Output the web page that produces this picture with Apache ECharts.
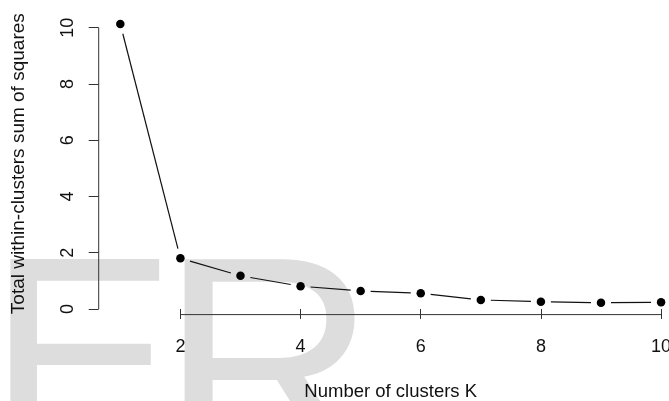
<!DOCTYPE html>
<html>
<head>
<meta charset="utf-8">
<script src="https://cdn.jsdelivr.net/npm/echarts@6/dist/echarts.min.js"></script>
<style>
  html, body { margin: 0; padding: 0; background: #ffffff; }
  #chart { width: 669px; height: 401px; }
</style>
</head>
<body>
<div id="chart"></div>
<script>
// Elbow plot: total within-cluster sum of squares for K = 1..10
const clusterK = [1, 2, 3, 4, 5, 6, 7, 8, 9, 10];
const withinSS = [10.13, 1.80, 1.18, 0.81, 0.64, 0.56, 0.32, 0.26, 0.22, 0.24];
const xTicks = [2, 4, 6, 8, 10];
const yTicks = [0, 2, 4, 6, 8, 10];

// plot region padded beyond the data range on each side
const xMin = 0.64, xMax = 10.36;
const yMin = -0.2, yMax = 10.53;

const ink = '#111111';
const font = 'Liberation Sans, Arial, sans-serif';

const segments = withinSS.slice(0, -1).map((v, i) =>
  [clusterK[i], v, clusterK[i + 1], withinSS[i + 1]]);

const chart = echarts.init(document.getElementById('chart'), null, { renderer: 'canvas' });

chart.setOption({
  backgroundColor: '#ffffff',
  animation: false,
  graphic: [
    { type: 'text', z: -10, left: -13, top: 234,
      style: { text: 'E', fill: '#dddddd', font: '285px ' + font } },
    { type: 'text', z: -10, left: 160, top: 233,
      style: { text: 'R', fill: '#dddddd', font: '300px ' + font } }
  ],
  // the plot region runs past the right edge of the canvas
  grid: { left: 98.7, width: 584, top: 12.8, height: 301.8, containLabel: false, outerBoundsMode: 'none' },
  xAxis: {
    type: 'value', min: xMin, max: xMax,
    name: 'Number of clusters K', nameLocation: 'middle', nameGap: 68,
    nameTextStyle: { color: ink, fontSize: 18.5, fontFamily: font },
    axisLine: { show: false },
    splitLine: { show: false },
    axisTick: { show: true, length: 10, customValues: xTicks, lineStyle: { color: '#333', width: 1 } },
    axisLabel: { customValues: xTicks, margin: 23, color: ink, fontSize: 18, fontFamily: font }
  },
  yAxis: {
    type: 'value', min: yMin, max: yMax,
    name: 'Total within-clusters sum of squares', nameLocation: 'middle', nameGap: 70,
    nameTextStyle: { color: ink, fontSize: 19, fontFamily: font },
    axisLine: { show: false },
    splitLine: { show: false },
    axisTick: { show: true, length: 10, customValues: yTicks, lineStyle: { color: '#333', width: 1 } },
    axisLabel: { customValues: yTicks, rotate: 90, margin: 22, color: ink, fontSize: 18, fontFamily: font }
  },
  series: [
    {
      // axis lines spanning the first to last tick
      type: 'custom', silent: true, z: 1,
      data: [[0]],
      renderItem: function (params, api) {
        const xa = api.coord([xTicks[0], yMin]);
        const xb = api.coord([xTicks[xTicks.length - 1], yMin]);
        const ya = api.coord([xMin, yTicks[0]]);
        const yb = api.coord([xMin, yTicks[yTicks.length - 1]]);
        const st = { stroke: '#333', lineWidth: 1 };
        return {
          type: 'group',
          children: [
            { type: 'line', shape: { x1: xa[0], y1: xa[1], x2: xb[0], y2: xb[1] }, style: st },
            { type: 'line', shape: { x1: ya[0], y1: ya[1], x2: yb[0], y2: yb[1] }, style: st }
          ]
        };
      }
    },
    {
      // connecting segments, stopped short of each point
      type: 'custom', silent: true, z: 2,
      encode: { x: [0, 2], y: [1, 3] },
      data: segments,
      renderItem: function (params, api) {
        const p0 = api.coord([api.value(0), api.value(1)]);
        const p1 = api.coord([api.value(2), api.value(3)]);
        const dx = p1[0] - p0[0], dy = p1[1] - p0[1];
        const len = Math.sqrt(dx * dx + dy * dy);
        const gap = 10;
        if (len <= 2 * gap) return null;
        const ux = dx / len, uy = dy / len;
        return {
          type: 'line',
          shape: {
            x1: p0[0] + ux * gap, y1: p0[1] + uy * gap,
            x2: p1[0] - ux * gap, y2: p1[1] - uy * gap
          },
          style: { stroke: ink, lineWidth: 1.2 }
        };
      }
    },
    {
      type: 'scatter', z: 3,
      symbol: 'circle', symbolSize: 8.5,
      itemStyle: { color: '#000000', opacity: 1 },
      data: clusterK.map((k, i) => [k, withinSS[i]])
    }
  ]
});
</script>
</body>
</html>
